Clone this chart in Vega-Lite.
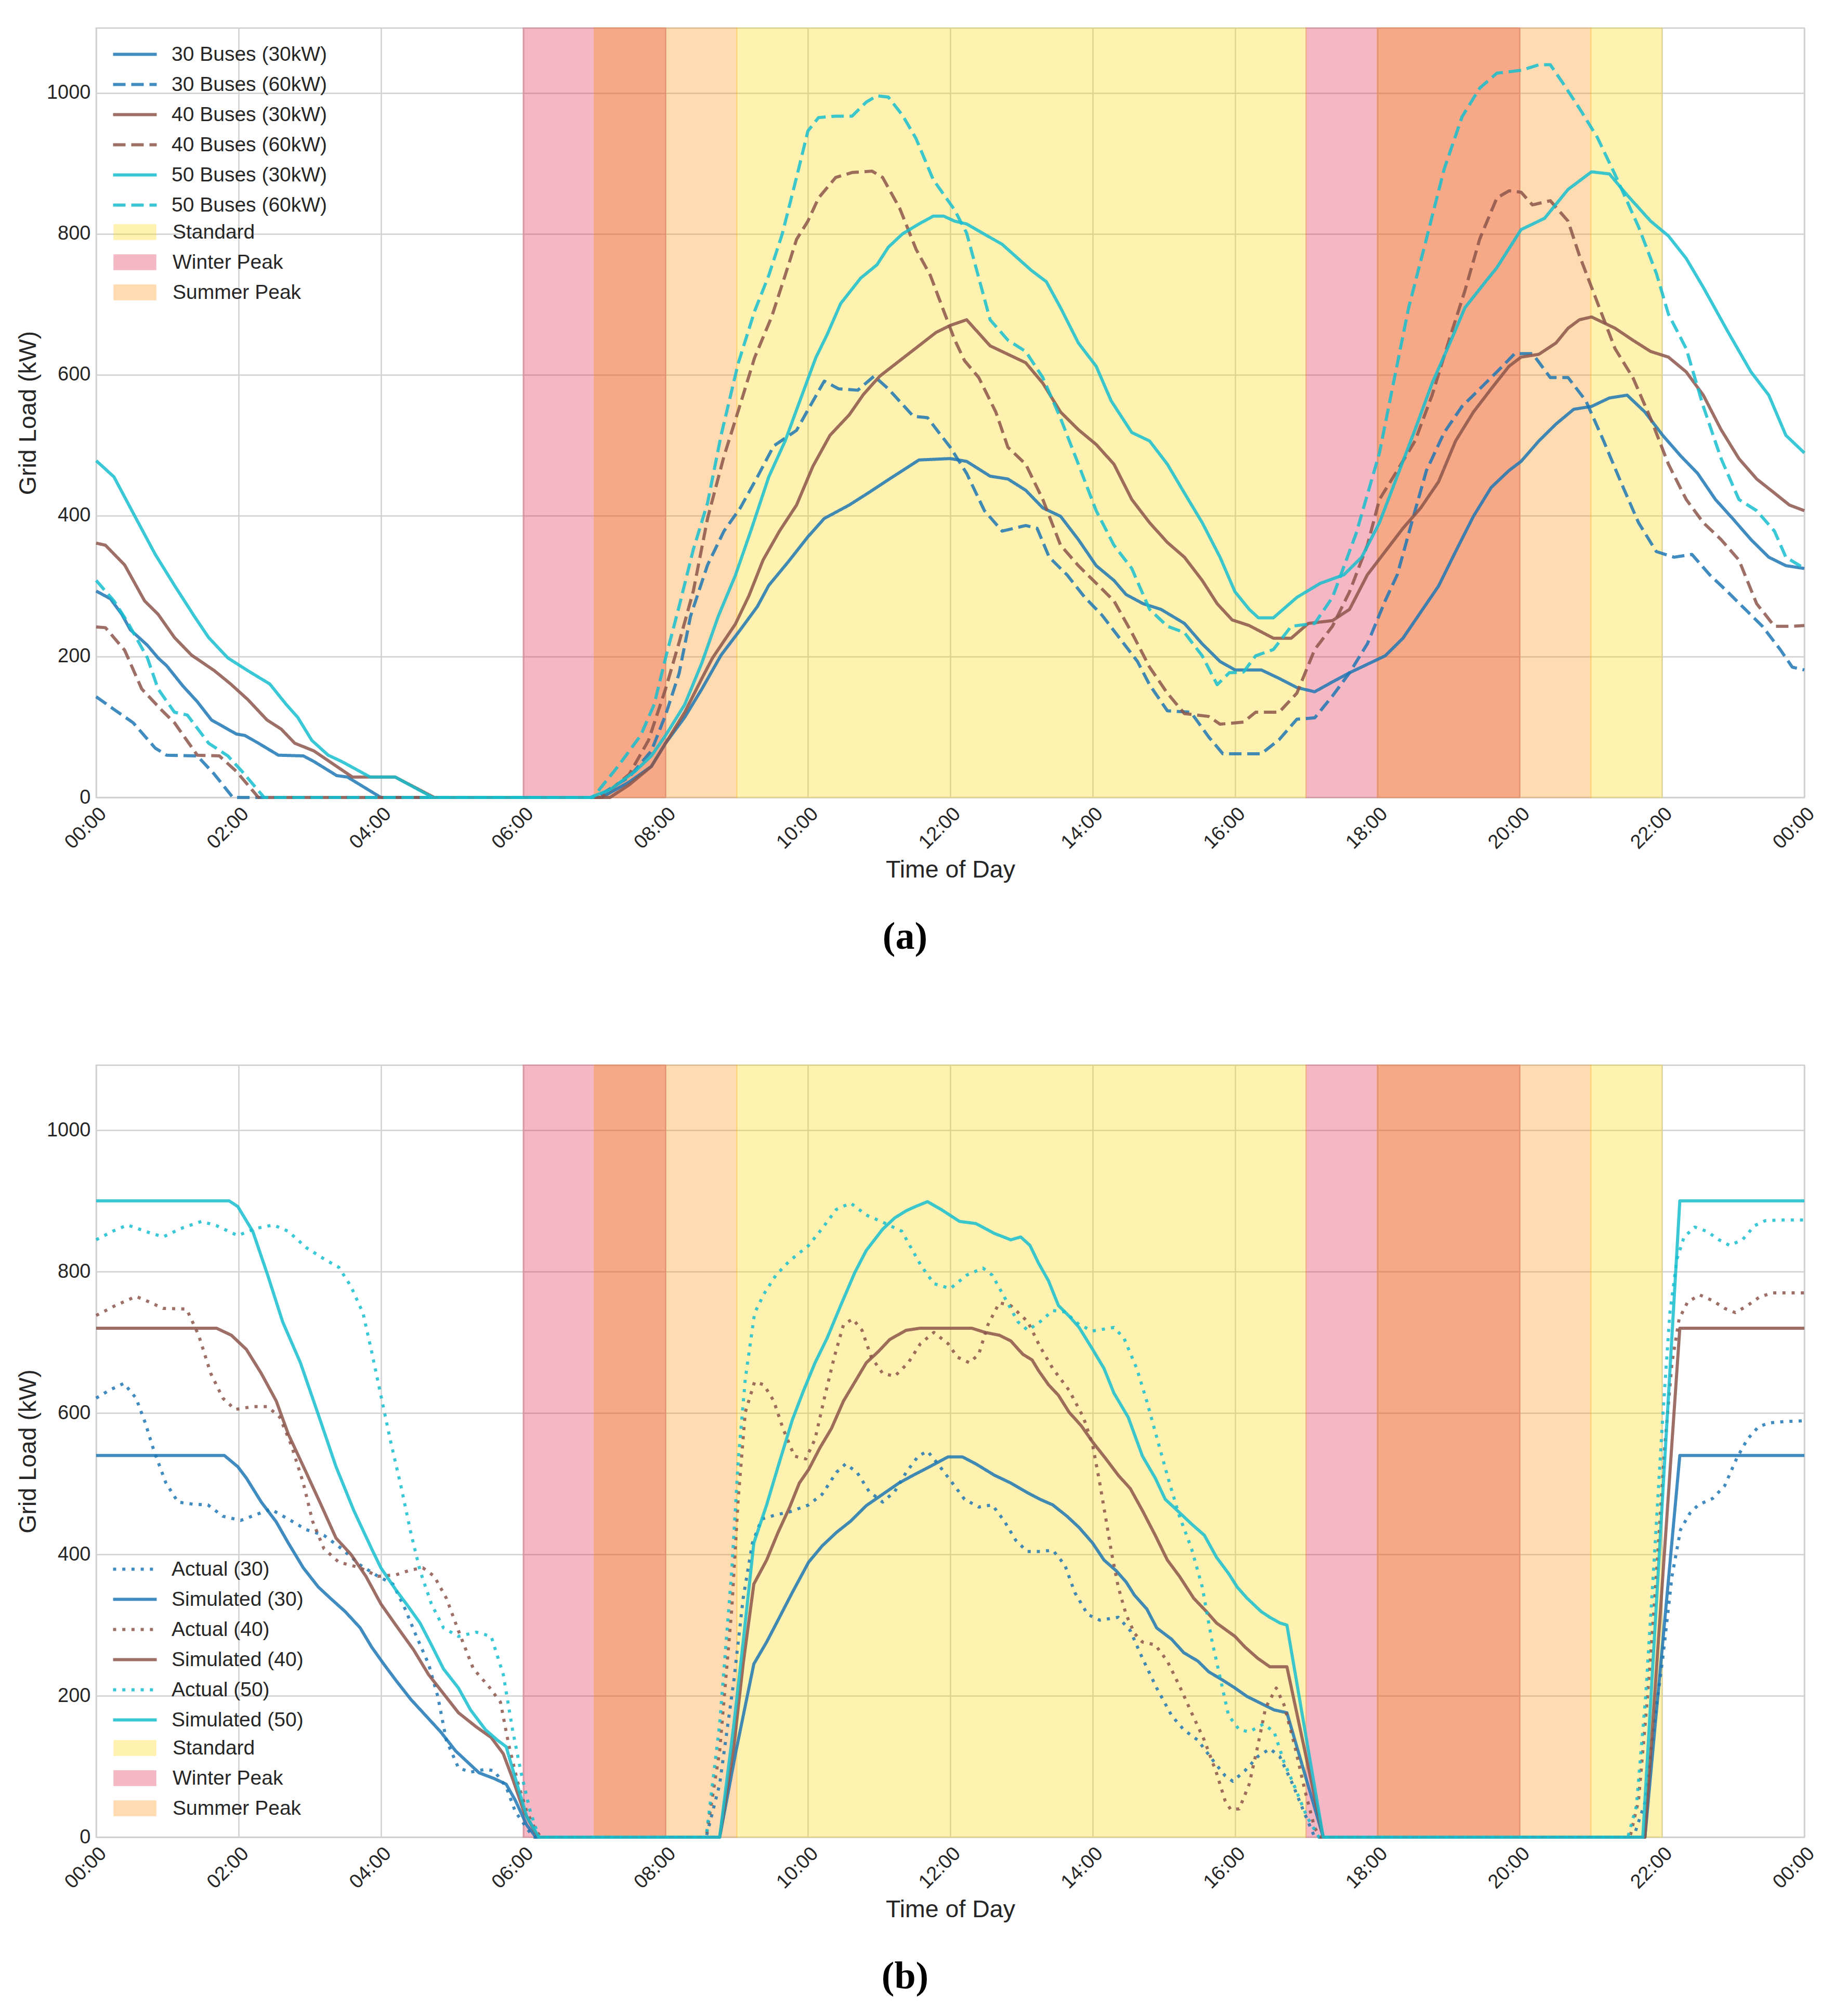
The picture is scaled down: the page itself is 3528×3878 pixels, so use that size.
{
  "$schema": "https://vega.github.io/schema/vega-lite/v6.json",
  "background": "white",
  "padding": {"left": 30, "top": 51, "right": 10, "bottom": 10},
  "datasets": {
    "bands": [
      {"band": "Standard", "start": 9, "end": 17},
      {"band": "Standard", "start": 21, "end": 22},
      {"band": "Winter Peak", "start": 6, "end": 8},
      {"band": "Winter Peak", "start": 17, "end": 20},
      {"band": "Summer Peak", "start": 7, "end": 9},
      {"band": "Summer Peak", "start": 18, "end": 21}
    ],
    "top": [
      {"s":"30 Buses (30kW)","t":0,"v":293},{"s":"30 Buses (30kW)","t":0.2,"v":282},{"s":"30 Buses (30kW)","t":0.36,"v":260},{"s":"30 Buses (30kW)","t":0.48,"v":238},{"s":"30 Buses (30kW)","t":0.72,"v":216},{"s":"30 Buses (30kW)","t":0.87,"v":198},{"s":"30 Buses (30kW)","t":0.99,"v":187},{"s":"30 Buses (30kW)","t":1.22,"v":158},{"s":"30 Buses (30kW)","t":1.42,"v":136},{"s":"30 Buses (30kW)","t":1.62,"v":110},{"s":"30 Buses (30kW)","t":1.97,"v":90},{"s":"30 Buses (30kW)","t":2.09,"v":88},{"s":"30 Buses (30kW)","t":2.28,"v":77},{"s":"30 Buses (30kW)","t":2.56,"v":60},{"s":"30 Buses (30kW)","t":2.91,"v":59},{"s":"30 Buses (30kW)","t":3.06,"v":51},{"s":"30 Buses (30kW)","t":3.38,"v":31},{"s":"30 Buses (30kW)","t":3.53,"v":29},{"s":"30 Buses (30kW)","t":4.0,"v":0},{"s":"30 Buses (30kW)","t":7.1,"v":0},{"s":"30 Buses (30kW)","t":7.49,"v":22},{"s":"30 Buses (30kW)","t":7.8,"v":44},{"s":"30 Buses (30kW)","t":8.0,"v":77},{"s":"30 Buses (30kW)","t":8.27,"v":114},{"s":"30 Buses (30kW)","t":8.51,"v":154},{"s":"30 Buses (30kW)","t":8.78,"v":202},{"s":"30 Buses (30kW)","t":9.05,"v":238},{"s":"30 Buses (30kW)","t":9.29,"v":271},{"s":"30 Buses (30kW)","t":9.45,"v":301},{"s":"30 Buses (30kW)","t":9.72,"v":334},{"s":"30 Buses (30kW)","t":10.0,"v":370},{"s":"30 Buses (30kW)","t":10.23,"v":396},{"s":"30 Buses (30kW)","t":10.58,"v":415},{"s":"30 Buses (30kW)","t":10.86,"v":433},{"s":"30 Buses (30kW)","t":11.13,"v":451},{"s":"30 Buses (30kW)","t":11.56,"v":479},{"s":"30 Buses (30kW)","t":12.0,"v":481},{"s":"30 Buses (30kW)","t":12.23,"v":477},{"s":"30 Buses (30kW)","t":12.56,"v":456},{"s":"30 Buses (30kW)","t":12.81,"v":452},{"s":"30 Buses (30kW)","t":13.06,"v":436},{"s":"30 Buses (30kW)","t":13.3,"v":411},{"s":"30 Buses (30kW)","t":13.55,"v":399},{"s":"30 Buses (30kW)","t":13.8,"v":366},{"s":"30 Buses (30kW)","t":14.05,"v":329},{"s":"30 Buses (30kW)","t":14.3,"v":308},{"s":"30 Buses (30kW)","t":14.47,"v":288},{"s":"30 Buses (30kW)","t":14.71,"v":275},{"s":"30 Buses (30kW)","t":14.96,"v":267},{"s":"30 Buses (30kW)","t":15.29,"v":247},{"s":"30 Buses (30kW)","t":15.54,"v":218},{"s":"30 Buses (30kW)","t":15.79,"v":193},{"s":"30 Buses (30kW)","t":16.0,"v":181},{"s":"30 Buses (30kW)","t":16.37,"v":181},{"s":"30 Buses (30kW)","t":16.62,"v":169},{"s":"30 Buses (30kW)","t":16.87,"v":156},{"s":"30 Buses (30kW)","t":17.12,"v":150},{"s":"30 Buses (30kW)","t":17.37,"v":164},{"s":"30 Buses (30kW)","t":17.61,"v":177},{"s":"30 Buses (30kW)","t":17.86,"v":189},{"s":"30 Buses (30kW)","t":18.11,"v":201},{"s":"30 Buses (30kW)","t":18.36,"v":226},{"s":"30 Buses (30kW)","t":18.61,"v":263},{"s":"30 Buses (30kW)","t":18.86,"v":300},{"s":"30 Buses (30kW)","t":19.1,"v":349},{"s":"30 Buses (30kW)","t":19.35,"v":399},{"s":"30 Buses (30kW)","t":19.6,"v":440},{"s":"30 Buses (30kW)","t":19.85,"v":464},{"s":"30 Buses (30kW)","t":20.02,"v":477},{"s":"30 Buses (30kW)","t":20.27,"v":506},{"s":"30 Buses (30kW)","t":20.51,"v":530},{"s":"30 Buses (30kW)","t":20.76,"v":551},{"s":"30 Buses (30kW)","t":21.01,"v":555},{"s":"30 Buses (30kW)","t":21.26,"v":567},{"s":"30 Buses (30kW)","t":21.51,"v":571},{"s":"30 Buses (30kW)","t":21.76,"v":547},{"s":"30 Buses (30kW)","t":22.01,"v":514},{"s":"30 Buses (30kW)","t":22.26,"v":485},{"s":"30 Buses (30kW)","t":22.5,"v":460},{"s":"30 Buses (30kW)","t":22.75,"v":423},{"s":"30 Buses (30kW)","t":23.0,"v":395},{"s":"30 Buses (30kW)","t":23.25,"v":366},{"s":"30 Buses (30kW)","t":23.5,"v":341},{"s":"30 Buses (30kW)","t":23.74,"v":329},{"s":"30 Buses (30kW)","t":24,"v":325},
      {"s":"30 Buses (60kW)","t":0,"v":143},{"s":"30 Buses (60kW)","t":0.25,"v":125},{"s":"30 Buses (60kW)","t":0.52,"v":106},{"s":"30 Buses (60kW)","t":0.83,"v":70},{"s":"30 Buses (60kW)","t":0.99,"v":60},{"s":"30 Buses (60kW)","t":1.42,"v":59},{"s":"30 Buses (60kW)","t":1.66,"v":33},{"s":"30 Buses (60kW)","t":1.92,"v":0},{"s":"30 Buses (60kW)","t":7.02,"v":0},{"s":"30 Buses (60kW)","t":7.49,"v":29},{"s":"30 Buses (60kW)","t":7.8,"v":66},{"s":"30 Buses (60kW)","t":8.0,"v":117},{"s":"30 Buses (60kW)","t":8.19,"v":176},{"s":"30 Buses (60kW)","t":8.35,"v":257},{"s":"30 Buses (60kW)","t":8.59,"v":330},{"s":"30 Buses (60kW)","t":8.82,"v":378},{"s":"30 Buses (60kW)","t":9.05,"v":411},{"s":"30 Buses (60kW)","t":9.29,"v":455},{"s":"30 Buses (60kW)","t":9.52,"v":499},{"s":"30 Buses (60kW)","t":9.84,"v":521},{"s":"30 Buses (60kW)","t":10.0,"v":550},{"s":"30 Buses (60kW)","t":10.23,"v":591},{"s":"30 Buses (60kW)","t":10.43,"v":580},{"s":"30 Buses (60kW)","t":10.7,"v":578},{"s":"30 Buses (60kW)","t":10.93,"v":598},{"s":"30 Buses (60kW)","t":11.13,"v":580},{"s":"30 Buses (60kW)","t":11.48,"v":541},{"s":"30 Buses (60kW)","t":11.68,"v":539},{"s":"30 Buses (60kW)","t":11.87,"v":514},{"s":"30 Buses (60kW)","t":12.0,"v":497},{"s":"30 Buses (60kW)","t":12.23,"v":460},{"s":"30 Buses (60kW)","t":12.48,"v":407},{"s":"30 Buses (60kW)","t":12.73,"v":378},{"s":"30 Buses (60kW)","t":13.06,"v":386},{"s":"30 Buses (60kW)","t":13.22,"v":382},{"s":"30 Buses (60kW)","t":13.39,"v":341},{"s":"30 Buses (60kW)","t":13.64,"v":316},{"s":"30 Buses (60kW)","t":13.89,"v":284},{"s":"30 Buses (60kW)","t":14.13,"v":259},{"s":"30 Buses (60kW)","t":14.38,"v":226},{"s":"30 Buses (60kW)","t":14.63,"v":193},{"s":"30 Buses (60kW)","t":14.8,"v":160},{"s":"30 Buses (60kW)","t":15.05,"v":123},{"s":"30 Buses (60kW)","t":15.38,"v":121},{"s":"30 Buses (60kW)","t":15.63,"v":86},{"s":"30 Buses (60kW)","t":15.83,"v":62},{"s":"30 Buses (60kW)","t":16.37,"v":62},{"s":"30 Buses (60kW)","t":16.62,"v":82},{"s":"30 Buses (60kW)","t":16.87,"v":111},{"s":"30 Buses (60kW)","t":17.12,"v":113},{"s":"30 Buses (60kW)","t":17.37,"v":144},{"s":"30 Buses (60kW)","t":17.61,"v":177},{"s":"30 Buses (60kW)","t":17.86,"v":218},{"s":"30 Buses (60kW)","t":18.11,"v":279},{"s":"30 Buses (60kW)","t":18.28,"v":316},{"s":"30 Buses (60kW)","t":18.53,"v":407},{"s":"30 Buses (60kW)","t":18.69,"v":464},{"s":"30 Buses (60kW)","t":18.94,"v":518},{"s":"30 Buses (60kW)","t":19.19,"v":555},{"s":"30 Buses (60kW)","t":19.44,"v":580},{"s":"30 Buses (60kW)","t":19.68,"v":604},{"s":"30 Buses (60kW)","t":19.93,"v":630},{"s":"30 Buses (60kW)","t":20.18,"v":630},{"s":"30 Buses (60kW)","t":20.43,"v":596},{"s":"30 Buses (60kW)","t":20.68,"v":596},{"s":"30 Buses (60kW)","t":20.93,"v":563},{"s":"30 Buses (60kW)","t":21.18,"v":506},{"s":"30 Buses (60kW)","t":21.42,"v":448},{"s":"30 Buses (60kW)","t":21.67,"v":390},{"s":"30 Buses (60kW)","t":21.92,"v":349},{"s":"30 Buses (60kW)","t":22.17,"v":341},{"s":"30 Buses (60kW)","t":22.42,"v":345},{"s":"30 Buses (60kW)","t":22.67,"v":316},{"s":"30 Buses (60kW)","t":22.92,"v":292},{"s":"30 Buses (60kW)","t":23.17,"v":267},{"s":"30 Buses (60kW)","t":23.41,"v":243},{"s":"30 Buses (60kW)","t":23.66,"v":210},{"s":"30 Buses (60kW)","t":23.83,"v":185},{"s":"30 Buses (60kW)","t":24,"v":181},
      {"s":"40 Buses (30kW)","t":0,"v":361},{"s":"40 Buses (30kW)","t":0.13,"v":358},{"s":"40 Buses (30kW)","t":0.4,"v":330},{"s":"40 Buses (30kW)","t":0.68,"v":279},{"s":"40 Buses (30kW)","t":0.87,"v":260},{"s":"40 Buses (30kW)","t":1.1,"v":227},{"s":"40 Buses (30kW)","t":1.34,"v":202},{"s":"40 Buses (30kW)","t":1.66,"v":180},{"s":"40 Buses (30kW)","t":1.89,"v":161},{"s":"40 Buses (30kW)","t":2.13,"v":139},{"s":"40 Buses (30kW)","t":2.4,"v":110},{"s":"40 Buses (30kW)","t":2.6,"v":97},{"s":"40 Buses (30kW)","t":2.79,"v":77},{"s":"40 Buses (30kW)","t":3.06,"v":66},{"s":"40 Buses (30kW)","t":3.38,"v":44},{"s":"40 Buses (30kW)","t":3.6,"v":29},{"s":"40 Buses (30kW)","t":4.2,"v":29},{"s":"40 Buses (30kW)","t":4.75,"v":0},{"s":"40 Buses (30kW)","t":7.22,"v":0},{"s":"40 Buses (30kW)","t":7.49,"v":18},{"s":"40 Buses (30kW)","t":7.8,"v":44},{"s":"40 Buses (30kW)","t":8.0,"v":77},{"s":"40 Buses (30kW)","t":8.27,"v":121},{"s":"40 Buses (30kW)","t":8.51,"v":169},{"s":"40 Buses (30kW)","t":8.66,"v":198},{"s":"40 Buses (30kW)","t":8.98,"v":246},{"s":"40 Buses (30kW)","t":9.17,"v":286},{"s":"40 Buses (30kW)","t":9.37,"v":337},{"s":"40 Buses (30kW)","t":9.6,"v":378},{"s":"40 Buses (30kW)","t":9.84,"v":415},{"s":"40 Buses (30kW)","t":10.07,"v":470},{"s":"40 Buses (30kW)","t":10.31,"v":514},{"s":"40 Buses (30kW)","t":10.58,"v":543},{"s":"40 Buses (30kW)","t":10.78,"v":572},{"s":"40 Buses (30kW)","t":11.01,"v":598},{"s":"40 Buses (30kW)","t":11.29,"v":620},{"s":"40 Buses (30kW)","t":11.52,"v":638},{"s":"40 Buses (30kW)","t":11.8,"v":660},{"s":"40 Buses (30kW)","t":12.0,"v":670},{"s":"40 Buses (30kW)","t":12.23,"v":678},{"s":"40 Buses (30kW)","t":12.56,"v":641},{"s":"40 Buses (30kW)","t":12.81,"v":629},{"s":"40 Buses (30kW)","t":13.06,"v":617},{"s":"40 Buses (30kW)","t":13.3,"v":588},{"s":"40 Buses (30kW)","t":13.55,"v":547},{"s":"40 Buses (30kW)","t":13.8,"v":522},{"s":"40 Buses (30kW)","t":14.05,"v":501},{"s":"40 Buses (30kW)","t":14.3,"v":473},{"s":"40 Buses (30kW)","t":14.55,"v":423},{"s":"40 Buses (30kW)","t":14.8,"v":390},{"s":"40 Buses (30kW)","t":15.05,"v":362},{"s":"40 Buses (30kW)","t":15.29,"v":341},{"s":"40 Buses (30kW)","t":15.54,"v":308},{"s":"40 Buses (30kW)","t":15.75,"v":275},{"s":"40 Buses (30kW)","t":15.96,"v":252},{"s":"40 Buses (30kW)","t":16.2,"v":244},{"s":"40 Buses (30kW)","t":16.54,"v":226},{"s":"40 Buses (30kW)","t":16.79,"v":226},{"s":"40 Buses (30kW)","t":17.03,"v":247},{"s":"40 Buses (30kW)","t":17.37,"v":251},{"s":"40 Buses (30kW)","t":17.61,"v":267},{"s":"40 Buses (30kW)","t":17.86,"v":316},{"s":"40 Buses (30kW)","t":18.11,"v":349},{"s":"40 Buses (30kW)","t":18.36,"v":382},{"s":"40 Buses (30kW)","t":18.61,"v":411},{"s":"40 Buses (30kW)","t":18.86,"v":448},{"s":"40 Buses (30kW)","t":19.1,"v":506},{"s":"40 Buses (30kW)","t":19.35,"v":547},{"s":"40 Buses (30kW)","t":19.6,"v":580},{"s":"40 Buses (30kW)","t":19.85,"v":612},{"s":"40 Buses (30kW)","t":20.02,"v":625},{"s":"40 Buses (30kW)","t":20.27,"v":629},{"s":"40 Buses (30kW)","t":20.51,"v":645},{"s":"40 Buses (30kW)","t":20.68,"v":666},{"s":"40 Buses (30kW)","t":20.84,"v":678},{"s":"40 Buses (30kW)","t":21.01,"v":682},{"s":"40 Buses (30kW)","t":21.34,"v":666},{"s":"40 Buses (30kW)","t":21.59,"v":649},{"s":"40 Buses (30kW)","t":21.84,"v":633},{"s":"40 Buses (30kW)","t":22.09,"v":625},{"s":"40 Buses (30kW)","t":22.34,"v":604},{"s":"40 Buses (30kW)","t":22.58,"v":571},{"s":"40 Buses (30kW)","t":22.83,"v":522},{"s":"40 Buses (30kW)","t":23.08,"v":481},{"s":"40 Buses (30kW)","t":23.33,"v":452},{"s":"40 Buses (30kW)","t":23.58,"v":432},{"s":"40 Buses (30kW)","t":23.79,"v":415},{"s":"40 Buses (30kW)","t":24,"v":407},
      {"s":"40 Buses (60kW)","t":0,"v":242},{"s":"40 Buses (60kW)","t":0.13,"v":241},{"s":"40 Buses (60kW)","t":0.4,"v":209},{"s":"40 Buses (60kW)","t":0.64,"v":154},{"s":"40 Buses (60kW)","t":0.91,"v":125},{"s":"40 Buses (60kW)","t":1.1,"v":106},{"s":"40 Buses (60kW)","t":1.42,"v":60},{"s":"40 Buses (60kW)","t":1.73,"v":59},{"s":"40 Buses (60kW)","t":1.97,"v":37},{"s":"40 Buses (60kW)","t":2.28,"v":0},{"s":"40 Buses (60kW)","t":7.1,"v":0},{"s":"40 Buses (60kW)","t":7.49,"v":33},{"s":"40 Buses (60kW)","t":7.76,"v":81},{"s":"40 Buses (60kW)","t":8.0,"v":154},{"s":"40 Buses (60kW)","t":8.19,"v":220},{"s":"40 Buses (60kW)","t":8.39,"v":293},{"s":"40 Buses (60kW)","t":8.59,"v":396},{"s":"40 Buses (60kW)","t":8.82,"v":484},{"s":"40 Buses (60kW)","t":9.05,"v":558},{"s":"40 Buses (60kW)","t":9.25,"v":624},{"s":"40 Buses (60kW)","t":9.49,"v":682},{"s":"40 Buses (60kW)","t":9.68,"v":741},{"s":"40 Buses (60kW)","t":9.84,"v":792},{"s":"40 Buses (60kW)","t":10.0,"v":818},{"s":"40 Buses (60kW)","t":10.15,"v":851},{"s":"40 Buses (60kW)","t":10.39,"v":880},{"s":"40 Buses (60kW)","t":10.62,"v":887},{"s":"40 Buses (60kW)","t":10.9,"v":889},{"s":"40 Buses (60kW)","t":11.05,"v":880},{"s":"40 Buses (60kW)","t":11.29,"v":836},{"s":"40 Buses (60kW)","t":11.52,"v":778},{"s":"40 Buses (60kW)","t":11.72,"v":741},{"s":"40 Buses (60kW)","t":11.91,"v":690},{"s":"40 Buses (60kW)","t":12.06,"v":650},{"s":"40 Buses (60kW)","t":12.2,"v":620},{"s":"40 Buses (60kW)","t":12.4,"v":596},{"s":"40 Buses (60kW)","t":12.64,"v":547},{"s":"40 Buses (60kW)","t":12.81,"v":497},{"s":"40 Buses (60kW)","t":13.06,"v":473},{"s":"40 Buses (60kW)","t":13.3,"v":423},{"s":"40 Buses (60kW)","t":13.55,"v":358},{"s":"40 Buses (60kW)","t":13.8,"v":329},{"s":"40 Buses (60kW)","t":14.05,"v":304},{"s":"40 Buses (60kW)","t":14.3,"v":279},{"s":"40 Buses (60kW)","t":14.55,"v":234},{"s":"40 Buses (60kW)","t":14.8,"v":185},{"s":"40 Buses (60kW)","t":15.05,"v":148},{"s":"40 Buses (60kW)","t":15.29,"v":119},{"s":"40 Buses (60kW)","t":15.63,"v":115},{"s":"40 Buses (60kW)","t":15.79,"v":104},{"s":"40 Buses (60kW)","t":16.12,"v":107},{"s":"40 Buses (60kW)","t":16.29,"v":121},{"s":"40 Buses (60kW)","t":16.62,"v":121},{"s":"40 Buses (60kW)","t":16.87,"v":148},{"s":"40 Buses (60kW)","t":17.12,"v":210},{"s":"40 Buses (60kW)","t":17.37,"v":243},{"s":"40 Buses (60kW)","t":17.61,"v":292},{"s":"40 Buses (60kW)","t":17.86,"v":358},{"s":"40 Buses (60kW)","t":18.03,"v":423},{"s":"40 Buses (60kW)","t":18.28,"v":464},{"s":"40 Buses (60kW)","t":18.53,"v":506},{"s":"40 Buses (60kW)","t":18.77,"v":571},{"s":"40 Buses (60kW)","t":19.02,"v":653},{"s":"40 Buses (60kW)","t":19.23,"v":719},{"s":"40 Buses (60kW)","t":19.44,"v":793},{"s":"40 Buses (60kW)","t":19.68,"v":851},{"s":"40 Buses (60kW)","t":19.85,"v":861},{"s":"40 Buses (60kW)","t":20.02,"v":859},{"s":"40 Buses (60kW)","t":20.18,"v":841},{"s":"40 Buses (60kW)","t":20.43,"v":847},{"s":"40 Buses (60kW)","t":20.68,"v":818},{"s":"40 Buses (60kW)","t":20.84,"v":769},{"s":"40 Buses (60kW)","t":21.09,"v":703},{"s":"40 Buses (60kW)","t":21.34,"v":637},{"s":"40 Buses (60kW)","t":21.59,"v":596},{"s":"40 Buses (60kW)","t":21.84,"v":538},{"s":"40 Buses (60kW)","t":22.09,"v":473},{"s":"40 Buses (60kW)","t":22.34,"v":423},{"s":"40 Buses (60kW)","t":22.58,"v":390},{"s":"40 Buses (60kW)","t":22.83,"v":366},{"s":"40 Buses (60kW)","t":23.08,"v":337},{"s":"40 Buses (60kW)","t":23.33,"v":275},{"s":"40 Buses (60kW)","t":23.58,"v":243},{"s":"40 Buses (60kW)","t":23.83,"v":243},{"s":"40 Buses (60kW)","t":24,"v":244},
      {"s":"50 Buses (30kW)","t":0,"v":478},{"s":"50 Buses (30kW)","t":0.25,"v":455},{"s":"50 Buses (30kW)","t":0.56,"v":396},{"s":"50 Buses (30kW)","t":0.83,"v":345},{"s":"50 Buses (30kW)","t":1.1,"v":301},{"s":"50 Buses (30kW)","t":1.38,"v":257},{"s":"50 Buses (30kW)","t":1.58,"v":227},{"s":"50 Buses (30kW)","t":1.85,"v":198},{"s":"50 Buses (30kW)","t":2.13,"v":180},{"s":"50 Buses (30kW)","t":2.44,"v":161},{"s":"50 Buses (30kW)","t":2.67,"v":132},{"s":"50 Buses (30kW)","t":2.83,"v":114},{"s":"50 Buses (30kW)","t":3.03,"v":81},{"s":"50 Buses (30kW)","t":3.26,"v":60},{"s":"50 Buses (30kW)","t":3.45,"v":51},{"s":"50 Buses (30kW)","t":3.85,"v":29},{"s":"50 Buses (30kW)","t":4.2,"v":29},{"s":"50 Buses (30kW)","t":4.73,"v":0},{"s":"50 Buses (30kW)","t":6.94,"v":0},{"s":"50 Buses (30kW)","t":7.22,"v":11},{"s":"50 Buses (30kW)","t":7.57,"v":37},{"s":"50 Buses (30kW)","t":7.8,"v":59},{"s":"50 Buses (30kW)","t":8.0,"v":88},{"s":"50 Buses (30kW)","t":8.27,"v":132},{"s":"50 Buses (30kW)","t":8.51,"v":191},{"s":"50 Buses (30kW)","t":8.74,"v":257},{"s":"50 Buses (30kW)","t":8.98,"v":315},{"s":"50 Buses (30kW)","t":9.21,"v":382},{"s":"50 Buses (30kW)","t":9.45,"v":455},{"s":"50 Buses (30kW)","t":9.68,"v":506},{"s":"50 Buses (30kW)","t":9.92,"v":572},{"s":"50 Buses (30kW)","t":10.11,"v":624},{"s":"50 Buses (30kW)","t":10.27,"v":657},{"s":"50 Buses (30kW)","t":10.46,"v":701},{"s":"50 Buses (30kW)","t":10.74,"v":737},{"s":"50 Buses (30kW)","t":10.97,"v":756},{"s":"50 Buses (30kW)","t":11.13,"v":781},{"s":"50 Buses (30kW)","t":11.33,"v":800},{"s":"50 Buses (30kW)","t":11.56,"v":814},{"s":"50 Buses (30kW)","t":11.76,"v":825},{"s":"50 Buses (30kW)","t":11.91,"v":825},{"s":"50 Buses (30kW)","t":12.06,"v":818},{"s":"50 Buses (30kW)","t":12.23,"v":814},{"s":"50 Buses (30kW)","t":12.73,"v":785},{"s":"50 Buses (30kW)","t":13.14,"v":748},{"s":"50 Buses (30kW)","t":13.35,"v":732},{"s":"50 Buses (30kW)","t":13.55,"v":695},{"s":"50 Buses (30kW)","t":13.8,"v":645},{"s":"50 Buses (30kW)","t":14.05,"v":612},{"s":"50 Buses (30kW)","t":14.26,"v":563},{"s":"50 Buses (30kW)","t":14.55,"v":518},{"s":"50 Buses (30kW)","t":14.8,"v":506},{"s":"50 Buses (30kW)","t":15.05,"v":473},{"s":"50 Buses (30kW)","t":15.29,"v":432},{"s":"50 Buses (30kW)","t":15.54,"v":390},{"s":"50 Buses (30kW)","t":15.79,"v":341},{"s":"50 Buses (30kW)","t":16.0,"v":292},{"s":"50 Buses (30kW)","t":16.2,"v":267},{"s":"50 Buses (30kW)","t":16.33,"v":255},{"s":"50 Buses (30kW)","t":16.54,"v":255},{"s":"50 Buses (30kW)","t":16.87,"v":284},{"s":"50 Buses (30kW)","t":17.2,"v":304},{"s":"50 Buses (30kW)","t":17.53,"v":316},{"s":"50 Buses (30kW)","t":17.78,"v":341},{"s":"50 Buses (30kW)","t":18.03,"v":390},{"s":"50 Buses (30kW)","t":18.28,"v":456},{"s":"50 Buses (30kW)","t":18.53,"v":522},{"s":"50 Buses (30kW)","t":18.77,"v":588},{"s":"50 Buses (30kW)","t":19.02,"v":645},{"s":"50 Buses (30kW)","t":19.23,"v":695},{"s":"50 Buses (30kW)","t":19.52,"v":732},{"s":"50 Buses (30kW)","t":19.68,"v":752},{"s":"50 Buses (30kW)","t":20.02,"v":806},{"s":"50 Buses (30kW)","t":20.35,"v":822},{"s":"50 Buses (30kW)","t":20.68,"v":863},{"s":"50 Buses (30kW)","t":21.01,"v":888},{"s":"50 Buses (30kW)","t":21.26,"v":885},{"s":"50 Buses (30kW)","t":21.51,"v":855},{"s":"50 Buses (30kW)","t":21.84,"v":818},{"s":"50 Buses (30kW)","t":22.09,"v":797},{"s":"50 Buses (30kW)","t":22.34,"v":765},{"s":"50 Buses (30kW)","t":22.58,"v":724},{"s":"50 Buses (30kW)","t":22.92,"v":662},{"s":"50 Buses (30kW)","t":23.25,"v":604},{"s":"50 Buses (30kW)","t":23.5,"v":571},{"s":"50 Buses (30kW)","t":23.74,"v":514},{"s":"50 Buses (30kW)","t":24,"v":489},
      {"s":"50 Buses (60kW)","t":0,"v":308},{"s":"50 Buses (60kW)","t":0.25,"v":279},{"s":"50 Buses (60kW)","t":0.44,"v":249},{"s":"50 Buses (60kW)","t":0.72,"v":198},{"s":"50 Buses (60kW)","t":0.87,"v":154},{"s":"50 Buses (60kW)","t":1.1,"v":121},{"s":"50 Buses (60kW)","t":1.28,"v":117},{"s":"50 Buses (60kW)","t":1.58,"v":77},{"s":"50 Buses (60kW)","t":1.85,"v":59},{"s":"50 Buses (60kW)","t":2.05,"v":37},{"s":"50 Buses (60kW)","t":2.36,"v":0},{"s":"50 Buses (60kW)","t":6.98,"v":0},{"s":"50 Buses (60kW)","t":7.33,"v":44},{"s":"50 Buses (60kW)","t":7.65,"v":88},{"s":"50 Buses (60kW)","t":7.84,"v":132},{"s":"50 Buses (60kW)","t":8.0,"v":198},{"s":"50 Buses (60kW)","t":8.19,"v":271},{"s":"50 Buses (60kW)","t":8.39,"v":352},{"s":"50 Buses (60kW)","t":8.59,"v":418},{"s":"50 Buses (60kW)","t":8.78,"v":514},{"s":"50 Buses (60kW)","t":9.02,"v":616},{"s":"50 Buses (60kW)","t":9.25,"v":690},{"s":"50 Buses (60kW)","t":9.45,"v":741},{"s":"50 Buses (60kW)","t":9.64,"v":800},{"s":"50 Buses (60kW)","t":9.84,"v":880},{"s":"50 Buses (60kW)","t":10.0,"v":946},{"s":"50 Buses (60kW)","t":10.15,"v":965},{"s":"50 Buses (60kW)","t":10.39,"v":967},{"s":"50 Buses (60kW)","t":10.62,"v":967},{"s":"50 Buses (60kW)","t":10.82,"v":987},{"s":"50 Buses (60kW)","t":10.97,"v":996},{"s":"50 Buses (60kW)","t":11.13,"v":994},{"s":"50 Buses (60kW)","t":11.33,"v":968},{"s":"50 Buses (60kW)","t":11.52,"v":935},{"s":"50 Buses (60kW)","t":11.76,"v":877},{"s":"50 Buses (60kW)","t":12.06,"v":834},{"s":"50 Buses (60kW)","t":12.23,"v":801},{"s":"50 Buses (60kW)","t":12.56,"v":678},{"s":"50 Buses (60kW)","t":12.81,"v":649},{"s":"50 Buses (60kW)","t":13.06,"v":633},{"s":"50 Buses (60kW)","t":13.3,"v":596},{"s":"50 Buses (60kW)","t":13.55,"v":538},{"s":"50 Buses (60kW)","t":13.8,"v":473},{"s":"50 Buses (60kW)","t":14.05,"v":407},{"s":"50 Buses (60kW)","t":14.3,"v":358},{"s":"50 Buses (60kW)","t":14.55,"v":325},{"s":"50 Buses (60kW)","t":14.8,"v":267},{"s":"50 Buses (60kW)","t":15.05,"v":243},{"s":"50 Buses (60kW)","t":15.29,"v":234},{"s":"50 Buses (60kW)","t":15.54,"v":201},{"s":"50 Buses (60kW)","t":15.75,"v":160},{"s":"50 Buses (60kW)","t":15.92,"v":177},{"s":"50 Buses (60kW)","t":16.12,"v":178},{"s":"50 Buses (60kW)","t":16.29,"v":201},{"s":"50 Buses (60kW)","t":16.54,"v":210},{"s":"50 Buses (60kW)","t":16.79,"v":243},{"s":"50 Buses (60kW)","t":17.12,"v":247},{"s":"50 Buses (60kW)","t":17.37,"v":284},{"s":"50 Buses (60kW)","t":17.7,"v":374},{"s":"50 Buses (60kW)","t":18.03,"v":489},{"s":"50 Buses (60kW)","t":18.2,"v":575},{"s":"50 Buses (60kW)","t":18.44,"v":695},{"s":"50 Buses (60kW)","t":18.69,"v":793},{"s":"50 Buses (60kW)","t":18.94,"v":892},{"s":"50 Buses (60kW)","t":19.19,"v":966},{"s":"50 Buses (60kW)","t":19.44,"v":1007},{"s":"50 Buses (60kW)","t":19.68,"v":1028},{"s":"50 Buses (60kW)","t":20.02,"v":1032},{"s":"50 Buses (60kW)","t":20.27,"v":1040},{"s":"50 Buses (60kW)","t":20.43,"v":1040},{"s":"50 Buses (60kW)","t":20.6,"v":1015},{"s":"50 Buses (60kW)","t":20.84,"v":978},{"s":"50 Buses (60kW)","t":21.09,"v":937},{"s":"50 Buses (60kW)","t":21.34,"v":884},{"s":"50 Buses (60kW)","t":21.67,"v":810},{"s":"50 Buses (60kW)","t":21.92,"v":744},{"s":"50 Buses (60kW)","t":22.09,"v":686},{"s":"50 Buses (60kW)","t":22.34,"v":637},{"s":"50 Buses (60kW)","t":22.58,"v":555},{"s":"50 Buses (60kW)","t":22.83,"v":481},{"s":"50 Buses (60kW)","t":23.08,"v":423},{"s":"50 Buses (60kW)","t":23.33,"v":407},{"s":"50 Buses (60kW)","t":23.58,"v":378},{"s":"50 Buses (60kW)","t":23.74,"v":341},{"s":"50 Buses (60kW)","t":24,"v":325}
    ],
    "bottom": [
      {"s":"Actual (30)","t":0,"v":621},{"s":"Actual (30)","t":0.18,"v":632},{"s":"Actual (30)","t":0.39,"v":642},{"s":"Actual (30)","t":0.56,"v":621},{"s":"Actual (30)","t":0.69,"v":586},{"s":"Actual (30)","t":0.81,"v":547},{"s":"Actual (30)","t":0.98,"v":501},{"s":"Actual (30)","t":1.15,"v":474},{"s":"Actual (30)","t":1.36,"v":471},{"s":"Actual (30)","t":1.57,"v":470},{"s":"Actual (30)","t":1.78,"v":454},{"s":"Actual (30)","t":2.03,"v":448},{"s":"Actual (30)","t":2.24,"v":456},{"s":"Actual (30)","t":2.45,"v":464},{"s":"Actual (30)","t":2.7,"v":450},{"s":"Actual (30)","t":2.95,"v":435},{"s":"Actual (30)","t":3.2,"v":427},{"s":"Actual (30)","t":3.45,"v":408},{"s":"Actual (30)","t":3.71,"v":385},{"s":"Actual (30)","t":3.96,"v":369},{"s":"Actual (30)","t":4.17,"v":358},{"s":"Actual (30)","t":4.34,"v":323},{"s":"Actual (30)","t":4.5,"v":284},{"s":"Actual (30)","t":4.67,"v":245},{"s":"Actual (30)","t":4.8,"v":199},{"s":"Actual (30)","t":4.92,"v":137},{"s":"Actual (30)","t":5.09,"v":98},{"s":"Actual (30)","t":5.26,"v":92},{"s":"Actual (30)","t":5.47,"v":96},{"s":"Actual (30)","t":5.59,"v":94},{"s":"Actual (30)","t":5.76,"v":71},{"s":"Actual (30)","t":5.89,"v":36},{"s":"Actual (30)","t":6.05,"v":13},{"s":"Actual (30)","t":6.14,"v":0},{"s":"Actual (30)","t":8.57,"v":0},{"s":"Actual (30)","t":8.76,"v":75},{"s":"Actual (30)","t":8.96,"v":222},{"s":"Actual (30)","t":9.09,"v":338},{"s":"Actual (30)","t":9.22,"v":416},{"s":"Actual (30)","t":9.35,"v":450},{"s":"Actual (30)","t":9.55,"v":456},{"s":"Actual (30)","t":9.74,"v":460},{"s":"Actual (30)","t":10.01,"v":470},{"s":"Actual (30)","t":10.2,"v":485},{"s":"Actual (30)","t":10.4,"v":516},{"s":"Actual (30)","t":10.53,"v":528},{"s":"Actual (30)","t":10.69,"v":516},{"s":"Actual (30)","t":10.86,"v":489},{"s":"Actual (30)","t":11.05,"v":474},{"s":"Actual (30)","t":11.22,"v":489},{"s":"Actual (30)","t":11.38,"v":516},{"s":"Actual (30)","t":11.55,"v":539},{"s":"Actual (30)","t":11.68,"v":546},{"s":"Actual (30)","t":11.81,"v":530},{"s":"Actual (30)","t":12.0,"v":505},{"s":"Actual (30)","t":12.2,"v":478},{"s":"Actual (30)","t":12.4,"v":467},{"s":"Actual (30)","t":12.59,"v":470},{"s":"Actual (30)","t":12.76,"v":447},{"s":"Actual (30)","t":12.92,"v":420},{"s":"Actual (30)","t":13.08,"v":404},{"s":"Actual (30)","t":13.26,"v":404},{"s":"Actual (30)","t":13.44,"v":406},{"s":"Actual (30)","t":13.61,"v":385},{"s":"Actual (30)","t":13.75,"v":346},{"s":"Actual (30)","t":13.93,"v":315},{"s":"Actual (30)","t":14.1,"v":307},{"s":"Actual (30)","t":14.36,"v":311},{"s":"Actual (30)","t":14.53,"v":292},{"s":"Actual (30)","t":14.7,"v":253},{"s":"Actual (30)","t":14.9,"v":211},{"s":"Actual (30)","t":15.11,"v":172},{"s":"Actual (30)","t":15.28,"v":152},{"s":"Actual (30)","t":15.48,"v":137},{"s":"Actual (30)","t":15.68,"v":110},{"s":"Actual (30)","t":15.86,"v":87},{"s":"Actual (30)","t":15.97,"v":79},{"s":"Actual (30)","t":16.14,"v":94},{"s":"Actual (30)","t":16.32,"v":114},{"s":"Actual (30)","t":16.49,"v":125},{"s":"Actual (30)","t":16.63,"v":114},{"s":"Actual (30)","t":16.81,"v":75},{"s":"Actual (30)","t":16.98,"v":33},{"s":"Actual (30)","t":17.12,"v":0},{"s":"Actual (30)","t":21.6,"v":0},{"s":"Actual (30)","t":21.77,"v":52},{"s":"Actual (30)","t":21.89,"v":160},{"s":"Actual (30)","t":22.01,"v":253},{"s":"Actual (30)","t":22.14,"v":369},{"s":"Actual (30)","t":22.26,"v":435},{"s":"Actual (30)","t":22.39,"v":458},{"s":"Actual (30)","t":22.51,"v":470},{"s":"Actual (30)","t":22.71,"v":479},{"s":"Actual (30)","t":22.88,"v":497},{"s":"Actual (30)","t":23.05,"v":536},{"s":"Actual (30)","t":23.2,"v":563},{"s":"Actual (30)","t":23.35,"v":580},{"s":"Actual (30)","t":23.5,"v":586},{"s":"Actual (30)","t":23.74,"v":588},{"s":"Actual (30)","t":24,"v":589},
      {"s":"Simulated (30)","t":0,"v":540},{"s":"Simulated (30)","t":1.8,"v":540},{"s":"Simulated (30)","t":1.99,"v":524},{"s":"Simulated (30)","t":2.11,"v":508},{"s":"Simulated (30)","t":2.32,"v":474},{"s":"Simulated (30)","t":2.53,"v":446},{"s":"Simulated (30)","t":2.7,"v":416},{"s":"Simulated (30)","t":2.91,"v":381},{"s":"Simulated (30)","t":3.12,"v":354},{"s":"Simulated (30)","t":3.29,"v":338},{"s":"Simulated (30)","t":3.5,"v":319},{"s":"Simulated (30)","t":3.71,"v":296},{"s":"Simulated (30)","t":3.87,"v":269},{"s":"Simulated (30)","t":4.04,"v":245},{"s":"Simulated (30)","t":4.21,"v":222},{"s":"Simulated (30)","t":4.42,"v":195},{"s":"Simulated (30)","t":4.63,"v":172},{"s":"Simulated (30)","t":4.84,"v":149},{"s":"Simulated (30)","t":5.05,"v":122},{"s":"Simulated (30)","t":5.22,"v":106},{"s":"Simulated (30)","t":5.38,"v":91},{"s":"Simulated (30)","t":5.59,"v":83},{"s":"Simulated (30)","t":5.76,"v":75},{"s":"Simulated (30)","t":5.89,"v":52},{"s":"Simulated (30)","t":6.05,"v":17},{"s":"Simulated (30)","t":6.18,"v":0},{"s":"Simulated (30)","t":8.76,"v":0},{"s":"Simulated (30)","t":8.99,"v":122},{"s":"Simulated (30)","t":9.24,"v":245},{"s":"Simulated (30)","t":9.42,"v":276},{"s":"Simulated (30)","t":9.58,"v":307},{"s":"Simulated (30)","t":9.78,"v":346},{"s":"Simulated (30)","t":10.01,"v":389},{"s":"Simulated (30)","t":10.2,"v":412},{"s":"Simulated (30)","t":10.4,"v":431},{"s":"Simulated (30)","t":10.6,"v":447},{"s":"Simulated (30)","t":10.82,"v":469},{"s":"Simulated (30)","t":11.05,"v":485},{"s":"Simulated (30)","t":11.28,"v":501},{"s":"Simulated (30)","t":11.48,"v":512},{"s":"Simulated (30)","t":11.71,"v":524},{"s":"Simulated (30)","t":11.97,"v":538},{"s":"Simulated (30)","t":12.17,"v":538},{"s":"Simulated (30)","t":12.36,"v":528},{"s":"Simulated (30)","t":12.62,"v":512},{"s":"Simulated (30)","t":12.85,"v":501},{"s":"Simulated (30)","t":13.09,"v":487},{"s":"Simulated (30)","t":13.26,"v":478},{"s":"Simulated (30)","t":13.44,"v":470},{"s":"Simulated (30)","t":13.64,"v":454},{"s":"Simulated (30)","t":13.81,"v":438},{"s":"Simulated (30)","t":14.0,"v":416},{"s":"Simulated (30)","t":14.16,"v":392},{"s":"Simulated (30)","t":14.33,"v":377},{"s":"Simulated (30)","t":14.47,"v":361},{"s":"Simulated (30)","t":14.59,"v":342},{"s":"Simulated (30)","t":14.76,"v":323},{"s":"Simulated (30)","t":14.9,"v":296},{"s":"Simulated (30)","t":15.11,"v":280},{"s":"Simulated (30)","t":15.28,"v":261},{"s":"Simulated (30)","t":15.48,"v":249},{"s":"Simulated (30)","t":15.63,"v":234},{"s":"Simulated (30)","t":15.83,"v":222},{"s":"Simulated (30)","t":16.0,"v":211},{"s":"Simulated (30)","t":16.17,"v":199},{"s":"Simulated (30)","t":16.35,"v":190},{"s":"Simulated (30)","t":16.55,"v":180},{"s":"Simulated (30)","t":16.73,"v":176},{"s":"Simulated (30)","t":17.24,"v":0},{"s":"Simulated (30)","t":21.76,"v":0},{"s":"Simulated (30)","t":22.25,"v":540},{"s":"Simulated (30)","t":24,"v":540},
      {"s":"Actual (40)","t":0,"v":738},{"s":"Actual (40)","t":0.27,"v":752},{"s":"Actual (40)","t":0.56,"v":765},{"s":"Actual (40)","t":0.77,"v":756},{"s":"Actual (40)","t":0.94,"v":748},{"s":"Actual (40)","t":1.27,"v":747},{"s":"Actual (40)","t":1.44,"v":710},{"s":"Actual (40)","t":1.61,"v":656},{"s":"Actual (40)","t":1.78,"v":621},{"s":"Actual (40)","t":1.95,"v":605},{"s":"Actual (40)","t":2.2,"v":609},{"s":"Actual (40)","t":2.41,"v":609},{"s":"Actual (40)","t":2.58,"v":594},{"s":"Actual (40)","t":2.74,"v":555},{"s":"Actual (40)","t":2.91,"v":501},{"s":"Actual (40)","t":3.04,"v":447},{"s":"Actual (40)","t":3.2,"v":408},{"s":"Actual (40)","t":3.41,"v":389},{"s":"Actual (40)","t":3.71,"v":381},{"s":"Actual (40)","t":3.96,"v":369},{"s":"Actual (40)","t":4.21,"v":371},{"s":"Actual (40)","t":4.42,"v":378},{"s":"Actual (40)","t":4.59,"v":381},{"s":"Actual (40)","t":4.75,"v":369},{"s":"Actual (40)","t":4.92,"v":338},{"s":"Actual (40)","t":5.09,"v":292},{"s":"Actual (40)","t":5.3,"v":238},{"s":"Actual (40)","t":5.51,"v":214},{"s":"Actual (40)","t":5.68,"v":191},{"s":"Actual (40)","t":5.8,"v":129},{"s":"Actual (40)","t":5.93,"v":75},{"s":"Actual (40)","t":6.05,"v":36},{"s":"Actual (40)","t":6.18,"v":9},{"s":"Actual (40)","t":6.25,"v":0},{"s":"Actual (40)","t":8.57,"v":0},{"s":"Actual (40)","t":8.76,"v":122},{"s":"Actual (40)","t":8.93,"v":323},{"s":"Actual (40)","t":9.02,"v":478},{"s":"Actual (40)","t":9.12,"v":601},{"s":"Actual (40)","t":9.25,"v":644},{"s":"Actual (40)","t":9.38,"v":640},{"s":"Actual (40)","t":9.52,"v":617},{"s":"Actual (40)","t":9.65,"v":578},{"s":"Actual (40)","t":9.81,"v":539},{"s":"Actual (40)","t":9.97,"v":535},{"s":"Actual (40)","t":10.1,"v":563},{"s":"Actual (40)","t":10.24,"v":625},{"s":"Actual (40)","t":10.37,"v":679},{"s":"Actual (40)","t":10.5,"v":725},{"s":"Actual (40)","t":10.63,"v":733},{"s":"Actual (40)","t":10.76,"v":717},{"s":"Actual (40)","t":10.89,"v":679},{"s":"Actual (40)","t":11.05,"v":656},{"s":"Actual (40)","t":11.22,"v":652},{"s":"Actual (40)","t":11.41,"v":671},{"s":"Actual (40)","t":11.58,"v":698},{"s":"Actual (40)","t":11.77,"v":714},{"s":"Actual (40)","t":11.97,"v":698},{"s":"Actual (40)","t":12.1,"v":679},{"s":"Actual (40)","t":12.27,"v":671},{"s":"Actual (40)","t":12.4,"v":683},{"s":"Actual (40)","t":12.53,"v":725},{"s":"Actual (40)","t":12.69,"v":756},{"s":"Actual (40)","t":12.85,"v":752},{"s":"Actual (40)","t":13.09,"v":729},{"s":"Actual (40)","t":13.26,"v":694},{"s":"Actual (40)","t":13.44,"v":663},{"s":"Actual (40)","t":13.67,"v":632},{"s":"Actual (40)","t":13.87,"v":594},{"s":"Actual (40)","t":14.0,"v":555},{"s":"Actual (40)","t":14.1,"v":501},{"s":"Actual (40)","t":14.18,"v":454},{"s":"Actual (40)","t":14.27,"v":400},{"s":"Actual (40)","t":14.36,"v":354},{"s":"Actual (40)","t":14.47,"v":315},{"s":"Actual (40)","t":14.59,"v":288},{"s":"Actual (40)","t":14.7,"v":276},{"s":"Actual (40)","t":14.88,"v":272},{"s":"Actual (40)","t":15.05,"v":249},{"s":"Actual (40)","t":15.22,"v":214},{"s":"Actual (40)","t":15.39,"v":176},{"s":"Actual (40)","t":15.57,"v":137},{"s":"Actual (40)","t":15.74,"v":91},{"s":"Actual (40)","t":15.86,"v":52},{"s":"Actual (40)","t":15.94,"v":39},{"s":"Actual (40)","t":16.06,"v":40},{"s":"Actual (40)","t":16.2,"v":75},{"s":"Actual (40)","t":16.32,"v":129},{"s":"Actual (40)","t":16.43,"v":183},{"s":"Actual (40)","t":16.58,"v":211},{"s":"Actual (40)","t":16.69,"v":187},{"s":"Actual (40)","t":16.84,"v":129},{"s":"Actual (40)","t":16.98,"v":67},{"s":"Actual (40)","t":17.12,"v":13},{"s":"Actual (40)","t":17.21,"v":0},{"s":"Actual (40)","t":21.55,"v":0},{"s":"Actual (40)","t":21.67,"v":52},{"s":"Actual (40)","t":21.79,"v":191},{"s":"Actual (40)","t":21.92,"v":369},{"s":"Actual (40)","t":22.04,"v":555},{"s":"Actual (40)","t":22.14,"v":671},{"s":"Actual (40)","t":22.24,"v":733},{"s":"Actual (40)","t":22.36,"v":757},{"s":"Actual (40)","t":22.53,"v":767},{"s":"Actual (40)","t":22.71,"v":759},{"s":"Actual (40)","t":22.88,"v":748},{"s":"Actual (40)","t":23.03,"v":742},{"s":"Actual (40)","t":23.2,"v":752},{"s":"Actual (40)","t":23.37,"v":764},{"s":"Actual (40)","t":23.55,"v":770},{"s":"Actual (40)","t":24,"v":770},
      {"s":"Simulated (40)","t":0,"v":720},{"s":"Simulated (40)","t":1.69,"v":720},{"s":"Simulated (40)","t":1.9,"v":710},{"s":"Simulated (40)","t":2.11,"v":690},{"s":"Simulated (40)","t":2.32,"v":656},{"s":"Simulated (40)","t":2.53,"v":617},{"s":"Simulated (40)","t":2.7,"v":570},{"s":"Simulated (40)","t":2.95,"v":516},{"s":"Simulated (40)","t":3.16,"v":470},{"s":"Simulated (40)","t":3.37,"v":423},{"s":"Simulated (40)","t":3.58,"v":400},{"s":"Simulated (40)","t":3.79,"v":369},{"s":"Simulated (40)","t":4.0,"v":330},{"s":"Simulated (40)","t":4.21,"v":300},{"s":"Simulated (40)","t":4.46,"v":265},{"s":"Simulated (40)","t":4.67,"v":230},{"s":"Simulated (40)","t":4.88,"v":203},{"s":"Simulated (40)","t":5.09,"v":176},{"s":"Simulated (40)","t":5.34,"v":156},{"s":"Simulated (40)","t":5.55,"v":141},{"s":"Simulated (40)","t":5.72,"v":118},{"s":"Simulated (40)","t":5.85,"v":83},{"s":"Simulated (40)","t":6.01,"v":36},{"s":"Simulated (40)","t":6.18,"v":5},{"s":"Simulated (40)","t":6.22,"v":0},{"s":"Simulated (40)","t":8.76,"v":0},{"s":"Simulated (40)","t":8.96,"v":129},{"s":"Simulated (40)","t":9.09,"v":245},{"s":"Simulated (40)","t":9.24,"v":358},{"s":"Simulated (40)","t":9.42,"v":392},{"s":"Simulated (40)","t":9.58,"v":431},{"s":"Simulated (40)","t":9.74,"v":466},{"s":"Simulated (40)","t":9.88,"v":501},{"s":"Simulated (40)","t":10.01,"v":520},{"s":"Simulated (40)","t":10.17,"v":551},{"s":"Simulated (40)","t":10.33,"v":578},{"s":"Simulated (40)","t":10.5,"v":617},{"s":"Simulated (40)","t":10.66,"v":644},{"s":"Simulated (40)","t":10.82,"v":671},{"s":"Simulated (40)","t":10.99,"v":687},{"s":"Simulated (40)","t":11.15,"v":704},{"s":"Simulated (40)","t":11.38,"v":717},{"s":"Simulated (40)","t":11.58,"v":720},{"s":"Simulated (40)","t":12.3,"v":720},{"s":"Simulated (40)","t":12.49,"v":714},{"s":"Simulated (40)","t":12.69,"v":710},{"s":"Simulated (40)","t":12.85,"v":702},{"s":"Simulated (40)","t":13.02,"v":683},{"s":"Simulated (40)","t":13.15,"v":675},{"s":"Simulated (40)","t":13.24,"v":660},{"s":"Simulated (40)","t":13.38,"v":640},{"s":"Simulated (40)","t":13.52,"v":625},{"s":"Simulated (40)","t":13.67,"v":601},{"s":"Simulated (40)","t":13.84,"v":582},{"s":"Simulated (40)","t":14.0,"v":559},{"s":"Simulated (40)","t":14.18,"v":536},{"s":"Simulated (40)","t":14.36,"v":512},{"s":"Simulated (40)","t":14.53,"v":493},{"s":"Simulated (40)","t":14.7,"v":462},{"s":"Simulated (40)","t":14.88,"v":427},{"s":"Simulated (40)","t":15.05,"v":392},{"s":"Simulated (40)","t":15.22,"v":369},{"s":"Simulated (40)","t":15.42,"v":338},{"s":"Simulated (40)","t":15.6,"v":319},{"s":"Simulated (40)","t":15.74,"v":303},{"s":"Simulated (40)","t":16.0,"v":284},{"s":"Simulated (40)","t":16.14,"v":269},{"s":"Simulated (40)","t":16.32,"v":253},{"s":"Simulated (40)","t":16.49,"v":241},{"s":"Simulated (40)","t":16.73,"v":241},{"s":"Simulated (40)","t":17.24,"v":0},{"s":"Simulated (40)","t":21.76,"v":0},{"s":"Simulated (40)","t":22.25,"v":720},{"s":"Simulated (40)","t":24,"v":720},
      {"s":"Actual (50)","t":0,"v":845},{"s":"Actual (50)","t":0.23,"v":857},{"s":"Actual (50)","t":0.44,"v":866},{"s":"Actual (50)","t":0.69,"v":857},{"s":"Actual (50)","t":0.94,"v":849},{"s":"Actual (50)","t":1.19,"v":861},{"s":"Actual (50)","t":1.48,"v":871},{"s":"Actual (50)","t":1.69,"v":865},{"s":"Actual (50)","t":1.99,"v":851},{"s":"Actual (50)","t":2.24,"v":861},{"s":"Actual (50)","t":2.49,"v":866},{"s":"Actual (50)","t":2.7,"v":857},{"s":"Actual (50)","t":2.95,"v":834},{"s":"Actual (50)","t":3.2,"v":818},{"s":"Actual (50)","t":3.41,"v":806},{"s":"Actual (50)","t":3.58,"v":779},{"s":"Actual (50)","t":3.75,"v":741},{"s":"Actual (50)","t":3.87,"v":687},{"s":"Actual (50)","t":4.0,"v":625},{"s":"Actual (50)","t":4.13,"v":563},{"s":"Actual (50)","t":4.29,"v":493},{"s":"Actual (50)","t":4.42,"v":431},{"s":"Actual (50)","t":4.55,"v":377},{"s":"Actual (50)","t":4.71,"v":330},{"s":"Actual (50)","t":4.88,"v":296},{"s":"Actual (50)","t":5.09,"v":284},{"s":"Actual (50)","t":5.34,"v":290},{"s":"Actual (50)","t":5.55,"v":284},{"s":"Actual (50)","t":5.72,"v":230},{"s":"Actual (50)","t":5.85,"v":152},{"s":"Actual (50)","t":5.97,"v":91},{"s":"Actual (50)","t":6.1,"v":36},{"s":"Actual (50)","t":6.22,"v":0},{"s":"Actual (50)","t":8.57,"v":0},{"s":"Actual (50)","t":8.76,"v":160},{"s":"Actual (50)","t":8.93,"v":377},{"s":"Actual (50)","t":9.02,"v":532},{"s":"Actual (50)","t":9.12,"v":648},{"s":"Actual (50)","t":9.25,"v":741},{"s":"Actual (50)","t":9.38,"v":768},{"s":"Actual (50)","t":9.55,"v":795},{"s":"Actual (50)","t":9.74,"v":815},{"s":"Actual (50)","t":10.01,"v":837},{"s":"Actual (50)","t":10.2,"v":861},{"s":"Actual (50)","t":10.4,"v":888},{"s":"Actual (50)","t":10.6,"v":897},{"s":"Actual (50)","t":10.82,"v":880},{"s":"Actual (50)","t":11.05,"v":870},{"s":"Actual (50)","t":11.32,"v":857},{"s":"Actual (50)","t":11.58,"v":810},{"s":"Actual (50)","t":11.77,"v":783},{"s":"Actual (50)","t":12.0,"v":776},{"s":"Actual (50)","t":12.23,"v":795},{"s":"Actual (50)","t":12.46,"v":805},{"s":"Actual (50)","t":12.59,"v":795},{"s":"Actual (50)","t":12.76,"v":764},{"s":"Actual (50)","t":12.95,"v":729},{"s":"Actual (50)","t":13.09,"v":717},{"s":"Actual (50)","t":13.26,"v":729},{"s":"Actual (50)","t":13.44,"v":745},{"s":"Actual (50)","t":13.61,"v":743},{"s":"Actual (50)","t":13.81,"v":725},{"s":"Actual (50)","t":14.0,"v":716},{"s":"Actual (50)","t":14.3,"v":721},{"s":"Actual (50)","t":14.44,"v":706},{"s":"Actual (50)","t":14.62,"v":663},{"s":"Actual (50)","t":14.76,"v":617},{"s":"Actual (50)","t":14.93,"v":555},{"s":"Actual (50)","t":15.08,"v":501},{"s":"Actual (50)","t":15.22,"v":454},{"s":"Actual (50)","t":15.39,"v":408},{"s":"Actual (50)","t":15.54,"v":354},{"s":"Actual (50)","t":15.68,"v":276},{"s":"Actual (50)","t":15.8,"v":222},{"s":"Actual (50)","t":15.91,"v":172},{"s":"Actual (50)","t":16.06,"v":152},{"s":"Actual (50)","t":16.2,"v":149},{"s":"Actual (50)","t":16.4,"v":160},{"s":"Actual (50)","t":16.55,"v":149},{"s":"Actual (50)","t":16.69,"v":106},{"s":"Actual (50)","t":16.84,"v":71},{"s":"Actual (50)","t":17.01,"v":29},{"s":"Actual (50)","t":17.18,"v":0},{"s":"Actual (50)","t":21.52,"v":0},{"s":"Actual (50)","t":21.64,"v":44},{"s":"Actual (50)","t":21.77,"v":199},{"s":"Actual (50)","t":21.89,"v":392},{"s":"Actual (50)","t":22.01,"v":594},{"s":"Actual (50)","t":22.11,"v":741},{"s":"Actual (50)","t":22.21,"v":818},{"s":"Actual (50)","t":22.31,"v":849},{"s":"Actual (50)","t":22.46,"v":863},{"s":"Actual (50)","t":22.63,"v":857},{"s":"Actual (50)","t":22.8,"v":845},{"s":"Actual (50)","t":22.95,"v":837},{"s":"Actual (50)","t":23.13,"v":845},{"s":"Actual (50)","t":23.3,"v":865},{"s":"Actual (50)","t":23.45,"v":872},{"s":"Actual (50)","t":23.64,"v":873},{"s":"Actual (50)","t":24,"v":873},
      {"s":"Simulated (50)","t":0,"v":900},{"s":"Simulated (50)","t":1.87,"v":900},{"s":"Simulated (50)","t":1.99,"v":892},{"s":"Simulated (50)","t":2.2,"v":857},{"s":"Simulated (50)","t":2.41,"v":795},{"s":"Simulated (50)","t":2.62,"v":729},{"s":"Simulated (50)","t":2.87,"v":671},{"s":"Simulated (50)","t":3.12,"v":598},{"s":"Simulated (50)","t":3.37,"v":524},{"s":"Simulated (50)","t":3.62,"v":462},{"s":"Simulated (50)","t":3.87,"v":408},{"s":"Simulated (50)","t":4.0,"v":381},{"s":"Simulated (50)","t":4.21,"v":350},{"s":"Simulated (50)","t":4.38,"v":327},{"s":"Simulated (50)","t":4.55,"v":303},{"s":"Simulated (50)","t":4.71,"v":272},{"s":"Simulated (50)","t":4.88,"v":238},{"s":"Simulated (50)","t":5.09,"v":211},{"s":"Simulated (50)","t":5.26,"v":180},{"s":"Simulated (50)","t":5.47,"v":152},{"s":"Simulated (50)","t":5.64,"v":137},{"s":"Simulated (50)","t":5.76,"v":128},{"s":"Simulated (50)","t":5.89,"v":83},{"s":"Simulated (50)","t":6.05,"v":29},{"s":"Simulated (50)","t":6.22,"v":0},{"s":"Simulated (50)","t":8.76,"v":0},{"s":"Simulated (50)","t":8.96,"v":160},{"s":"Simulated (50)","t":9.09,"v":276},{"s":"Simulated (50)","t":9.24,"v":416},{"s":"Simulated (50)","t":9.42,"v":470},{"s":"Simulated (50)","t":9.58,"v":524},{"s":"Simulated (50)","t":9.78,"v":590},{"s":"Simulated (50)","t":9.94,"v":632},{"s":"Simulated (50)","t":10.1,"v":671},{"s":"Simulated (50)","t":10.27,"v":706},{"s":"Simulated (50)","t":10.46,"v":752},{"s":"Simulated (50)","t":10.66,"v":799},{"s":"Simulated (50)","t":10.82,"v":830},{"s":"Simulated (50)","t":11.05,"v":860},{"s":"Simulated (50)","t":11.22,"v":876},{"s":"Simulated (50)","t":11.38,"v":886},{"s":"Simulated (50)","t":11.51,"v":892},{"s":"Simulated (50)","t":11.68,"v":899},{"s":"Simulated (50)","t":11.87,"v":888},{"s":"Simulated (50)","t":12.13,"v":871},{"s":"Simulated (50)","t":12.36,"v":868},{"s":"Simulated (50)","t":12.62,"v":854},{"s":"Simulated (50)","t":12.85,"v":845},{"s":"Simulated (50)","t":12.99,"v":849},{"s":"Simulated (50)","t":13.12,"v":837},{"s":"Simulated (50)","t":13.24,"v":812},{"s":"Simulated (50)","t":13.38,"v":787},{"s":"Simulated (50)","t":13.52,"v":752},{"s":"Simulated (50)","t":13.67,"v":737},{"s":"Simulated (50)","t":13.81,"v":721},{"s":"Simulated (50)","t":14.0,"v":690},{"s":"Simulated (50)","t":14.16,"v":663},{"s":"Simulated (50)","t":14.3,"v":628},{"s":"Simulated (50)","t":14.5,"v":594},{"s":"Simulated (50)","t":14.7,"v":539},{"s":"Simulated (50)","t":14.88,"v":508},{"s":"Simulated (50)","t":15.02,"v":478},{"s":"Simulated (50)","t":15.19,"v":462},{"s":"Simulated (50)","t":15.39,"v":443},{"s":"Simulated (50)","t":15.57,"v":427},{"s":"Simulated (50)","t":15.74,"v":396},{"s":"Simulated (50)","t":15.91,"v":373},{"s":"Simulated (50)","t":16.03,"v":354},{"s":"Simulated (50)","t":16.17,"v":338},{"s":"Simulated (50)","t":16.37,"v":319},{"s":"Simulated (50)","t":16.49,"v":311},{"s":"Simulated (50)","t":16.63,"v":303},{"s":"Simulated (50)","t":16.73,"v":300},{"s":"Simulated (50)","t":17.24,"v":0},{"s":"Simulated (50)","t":21.73,"v":0},{"s":"Simulated (50)","t":22.25,"v":900},{"s":"Simulated (50)","t":24,"v":900}
    ]
  },
  "vconcat": [
    {
      "width": 3286,
      "height": 1480,
      "title": {"text": "(a)", "orient": "bottom", "frame": "group", "anchor": "middle", "dx": -87, "offset": 70, "font": "Liberation Serif", "fontWeight": "bold", "fontSize": 74, "color": "#000000"},
      "layer": [
        {
          "data": {"name": "bands"},
          "mark": {"type": "rect", "opacity": 0.3, "strokeWidth": 2.5},
          "encoding": {
            "x": {"field": "start", "type": "quantitative", "title": "Time of Day", "scale": {"domain": [0, 24], "nice": false, "zero": false},
                  "axis": {"values": [0, 2, 4, 6, 8, 10, 12, 14, 16, 18, 20, 22, 24], "labelExpr": "(datum.value % 24 < 10 ? '0' : '') + (datum.value % 24) + ':00'"}},
            "x2": {"field": "end"},
            "y": {"datum": 0, "type": "quantitative", "title": "Grid Load (kW)", "scale": {"domain": [0, 1092], "nice": false}, "axis": {"values": [0, 200, 400, 600, 800, 1000], "format": "d"}},
            "y2": {"datum": 1092},
            "fill": {"field": "band", "type": "nominal", "scale": {"domain": ["Standard", "Winter Peak", "Summer Peak"], "range": ["#FFD700", "#DC143C", "#FF8C00"]},
                     "legend": {"orient": "none", "legendX": 55, "legendY": 373, "title": null, "symbolType": "M-2.857,-1H2.857V1H-2.857Z", "symbolSize": 784, "symbolStrokeWidth": 2.5, "labelOffset": 53, "rowPadding": 18}},
            "stroke": {"field": "band", "type": "nominal", "scale": {"domain": ["Standard", "Winter Peak", "Summer Peak"], "range": ["#FFD700", "#DC143C", "#FF8C00"]}}
          }
        },
        {
          "data": {"name": "top"},
          "mark": {"type": "line", "strokeWidth": 6, "opacity": 0.85, "strokeJoin": "round"},
          "encoding": {
            "x": {"field": "t", "type": "quantitative", "title": "Time of Day"},
            "y": {"field": "v", "type": "quantitative", "title": "Grid Load (kW)"},
            "color": {"field": "s", "type": "nominal",
                      "scale": {"domain": ["30 Buses (30kW)", "30 Buses (60kW)", "40 Buses (30kW)", "40 Buses (60kW)", "50 Buses (30kW)", "50 Buses (60kW)"], "range": ["#1f77b4", "#1f77b4", "#8c564b", "#8c564b", "#17becf", "#17becf"]},
                      "legend": {"orient": "none", "legendX": 55, "legendY": 31, "title": null, "symbolType": "M-3,0H3", "symbolSize": 784, "symbolStrokeWidth": 6, "labelOffset": 51, "rowPadding": 18}},
            "strokeDash": {"field": "s", "type": "nominal",
                      "scale": {"domain": ["30 Buses (30kW)", "30 Buses (60kW)", "40 Buses (30kW)", "40 Buses (60kW)", "50 Buses (30kW)", "50 Buses (60kW)"], "range": [[1, 0], [24, 11], [1, 0], [24, 11], [1, 0], [24, 11]]}}
          }
        }
      ]
    },
    {
      "width": 3286,
      "height": 1485,
      "title": {"text": "(b)", "orient": "bottom", "frame": "group", "anchor": "middle", "dx": -87, "offset": 70, "font": "Liberation Serif", "fontWeight": "bold", "fontSize": 74, "color": "#000000"},
      "layer": [
        {
          "data": {"name": "bands"},
          "mark": {"type": "rect", "opacity": 0.3, "strokeWidth": 2.5},
          "encoding": {
            "x": {"field": "start", "type": "quantitative", "title": "Time of Day", "scale": {"domain": [0, 24], "nice": false, "zero": false},
                  "axis": {"values": [0, 2, 4, 6, 8, 10, 12, 14, 16, 18, 20, 22, 24], "labelExpr": "(datum.value % 24 < 10 ? '0' : '') + (datum.value % 24) + ':00'"}},
            "x2": {"field": "end"},
            "y": {"datum": 0, "type": "quantitative", "title": "Grid Load (kW)", "scale": {"domain": [0, 1092], "nice": false}, "axis": {"values": [0, 200, 400, 600, 800, 1000], "format": "d"}},
            "y2": {"datum": 1092},
            "fill": {"field": "band", "type": "nominal", "scale": {"domain": ["Standard", "Winter Peak", "Summer Peak"], "range": ["#FFD700", "#DC143C", "#FF8C00"]},
                     "legend": {"orient": "none", "legendX": 55, "legendY": 1294, "title": null, "symbolType": "M-2.857,-1H2.857V1H-2.857Z", "symbolSize": 784, "symbolStrokeWidth": 2.5, "labelOffset": 53, "rowPadding": 18}},
            "stroke": {"field": "band", "type": "nominal", "scale": {"domain": ["Standard", "Winter Peak", "Summer Peak"], "range": ["#FFD700", "#DC143C", "#FF8C00"]}}
          }
        },
        {
          "data": {"name": "bottom"},
          "mark": {"type": "line", "strokeWidth": 6, "opacity": 0.85, "strokeJoin": "round"},
          "encoding": {
            "x": {"field": "t", "type": "quantitative", "title": "Time of Day"},
            "y": {"field": "v", "type": "quantitative", "title": "Grid Load (kW)"},
            "color": {"field": "s", "type": "nominal",
                      "scale": {"domain": ["Actual (30)", "Simulated (30)", "Actual (40)", "Simulated (40)", "Actual (50)", "Simulated (50)"], "range": ["#1f77b4", "#1f77b4", "#8c564b", "#8c564b", "#17becf", "#17becf"]},
                      "legend": {"orient": "none", "legendX": 55, "legendY": 950, "title": null, "symbolType": "M-3,0H3", "symbolSize": 784, "symbolStrokeWidth": 6, "labelOffset": 51, "rowPadding": 18}},
            "strokeDash": {"field": "s", "type": "nominal",
                      "scale": {"domain": ["Actual (30)", "Simulated (30)", "Actual (40)", "Simulated (40)", "Actual (50)", "Simulated (50)"], "range": [[6, 11.7], [1, 0], [6, 11.7], [1, 0], [6, 11.7], [1, 0]]}}
          }
        }
      ]
    }
  ],
  "spacing": 205,
  "resolve": {
    "scale": {"color": "independent", "strokeDash": "independent", "fill": "independent", "stroke": "independent"},
    "legend": {"color": "independent", "strokeDash": "independent", "fill": "independent", "stroke": "independent"}
  },
  "config": {
    "font": "Liberation Sans",
    "view": {"stroke": "#cccccc", "strokeWidth": 2.5},
    "axis": {
      "domain": false, "ticks": false, "grid": true, "gridColor": "#d0d0d0", "gridWidth": 2.5,
      "labelFont": "Liberation Sans", "labelFontSize": 38, "labelColor": "#262626",
      "titleFont": "Liberation Sans", "titleFontSize": 46.5, "titleFontWeight": "normal", "titleColor": "#262626",
      "labelOverlap": false, "labelFlush": false
    },
    "axisX": {"labelAngle": -45, "labelPadding": 12, "titlePadding": 10},
    "axisY": {"labelPadding": 11, "titlePadding": 11},
    "legend": {"padding": 0, "labelFont": "Liberation Sans", "labelFontSize": 39, "labelColor": "#262626", "labelLimit": 1000}
  }
}
